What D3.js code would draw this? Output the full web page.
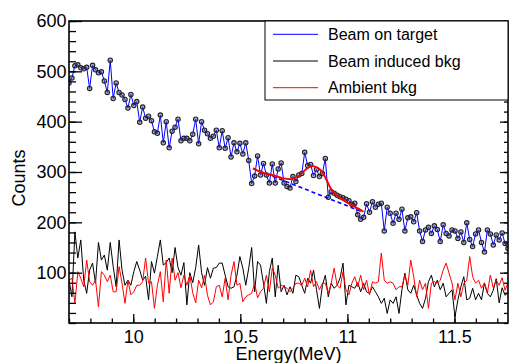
<!DOCTYPE html>
<html>
<head>
<meta charset="utf-8">
<script src="https://cdn.jsdelivr.net/npm/d3@7"></script>
<style>
  body { margin: 0; background: #fff; }
  svg { display: block; font-family: "Liberation Sans", Arial, sans-serif; }
</style>
</head>
<body>
<div class="chart"></div>
<script>
// energy bins: 150 bins from 9.70 to 11.75 MeV
const eFirst = 9.70;
const eLast = 11.75;

// Beam on target (counts per bin)
const beamOnTarget = [
  477, 487, 511, 513, 507, 505, 508, 466, 512, 503, 497, 499, 481, 458, 522, 446, 477, 458, 453, 444,
  427, 454, 432, 440, 399, 429, 407, 411, 402, 380, 377, 413, 358, 400, 348, 381, 389, 405, 362,
  367, 367, 362, 375, 405, 356, 400, 383, 376, 367, 371, 383, 348, 382, 347, 368, 330, 358, 340, 357,
  336, 358, 323, 277, 292, 332, 294, 317, 294, 278, 316, 278, 306, 318, 278, 271,
  268, 291, 281, 294, 297, 339, 313, 315, 293, 305, 291, 297, 327, 250, 261, 258, 254, 251, 249, 246,
  243, 236, 238, 215, 206, 210, 237, 220, 241, 230, 236, 238, 183, 230, 218, 198,
  218, 206, 226, 183, 209, 211, 201, 219, 183, 162, 185, 190, 178, 193, 186, 162, 195, 178, 173, 185,
  183, 168, 181, 160, 199, 166, 152, 177, 185, 160, 141, 185, 177, 155, 175, 165, 179, 158, 148
];

// Beam induced background
const beamInducedBkg = [
  85, 52, 181, 129, 165, 85, 59, 105, 119, 79, 160, 125, 135, 105, 160, 112, 72, 165, 105, 75,
  85, 75, 102, 122, 105, 85, 93, 46, 122, 99, 132, 165, 115, 120,
  129, 100, 150, 110, 95, 120, 36, 100, 80, 110, 155, 100, 75, 110,
  89, 109, 110, 119, 119, 95, 72, 69, 72, 95, 132, 109, 75, 109, 150, 62, 122, 115, 79, 39,
  102, 129, 52, 115, 62, 75, 56, 72, 59, 95, 92, 75, 59, 89, 79, 105, 66, 29, 75, 95,
  52, 79, 69, 75, 89, 119, 36, 75, 72, 69, 80, 62,
  79, 62, 59, 72, 62, 52, 39, 49, 19, 46, 39, 52, 19, 66, 99, 66, 59, 75, 56, 39,
  29, 49, 82, 95, 72, 85, 66, 79, 52, 59, 66, 12, 46, 72, 92, 46, 49, 69, 46, 59,
  46, 79, 59, 52, 65, 88, 40, 70, 55, 60
];

// Ambient background
const ambientBkg = [
  85, 89, 39, 102, 89, 72, 125, 82, 75, 85, 32, 102, 95, 82, 95, 62, 62, 112, 79, 39,
  85, 56, 62, 75, 75, 82, 129, 79, 82, 29, 75, 102, 42, 125,
  59, 129, 85, 100, 70, 95, 75, 95, 60, 40, 85, 70, 95, 55,
  36, 42, 72, 75, 52, 89, 46, 95, 122, 75, 79, 42, 52, 56, 59, 79, 50, 62, 69, 95,
  62, 109, 95, 69, 75, 72, 69, 62, 69, 79, 79, 75, 89, 72, 105, 72, 82, 66, 79, 79,
  59, 79, 109, 75, 69, 102, 66, 56, 79, 92, 72, 95,
  66, 85, 56, 82, 79, 82, 139, 85, 79, 82, 79, 66, 72, 72, 95, 75, 125, 92, 52, 85,
  66, 79, 29, 79, 82, 79, 85, 105, 119, 99, 79, 46, 79, 52, 79, 85, 132, 92, 79, 85,
  69, 80, 60, 95, 70, 85, 75, 90, 65, 80
];

// fit (gaussian peak on linear background)
const fitEnergy = [10.559, 10.601, 10.648, 10.694, 10.741, 10.772, 10.803, 10.834, 10.857, 10.881, 10.904, 10.927, 10.951, 10.981, 11.021, 11.051, 11.075];
const fitCounts = [307, 299, 294, 288, 286, 292, 304, 312, 309, 301, 283, 264, 254, 244, 234, 227, 221];
const bkgLineEnergy = [10.559, 11.075];
const bkgLineCounts = [307, 220];

const xMajor = [10, 10.5, 11, 11.5];
const yMajor = [100, 200, 300, 400, 500, 600];

const legendNames = ['Beam on target', 'Beam induced bkg', 'Ambient bkg'];
const legendColors = ['#0000ff', '#000000', '#ff0000'];

const W = 509, H = 363;
const margin = { top: 21, right: 1, bottom: 40, left: 69 };
const width = W - margin.left - margin.right;
const height = H - margin.top - margin.bottom;

const step = (eLast - eFirst) / (beamOnTarget.length - 1);
const energy = beamOnTarget.map((d, i) => eFirst + i * step);

const svg = d3.select('.chart').append('svg')
    .attr('width', W)
    .attr('height', H);

const g = svg.append('g')
    .attr('transform', `translate(${margin.left},${margin.top})`);

const x = d3.scaleLinear().domain([9.7, 11.75]).range([0, width]);
const y = d3.scaleLinear().domain([0, 600]).range([height, 0]);

g.append('clipPath').attr('id', 'clip')
  .append('rect').attr('width', width).attr('height', height);

const plot = g.append('g').attr('clip-path', 'url(#clip)');

const line = d3.line()
    .x(d => x(d[0]))
    .y(d => y(d[1]));

// series
plot.append('path')
    .datum(energy.map((e, i) => [e, beamOnTarget[i]]))
    .attr('d', line)
    .attr('fill', 'none')
    .attr('stroke', '#0000ff')
    .attr('stroke-width', 1);

plot.selectAll('.dot')
    .data(energy.map((e, i) => [e, beamOnTarget[i]]))
    .enter().append('circle')
    .attr('cx', d => x(d[0]))
    .attr('cy', d => y(d[1]))
    .attr('r', 2.2)
    .attr('fill', 'rgba(70,80,170,0.45)')
    .attr('stroke', '#222')
    .attr('stroke-width', 1.1);

plot.append('path')
    .datum(energy.map((e, i) => [e, beamInducedBkg[i]]))
    .attr('d', line)
    .attr('fill', 'none')
    .attr('stroke', '#000')
    .attr('stroke-width', 1);

plot.append('path')
    .datum(energy.map((e, i) => [e, ambientBkg[i]]))
    .attr('d', line)
    .attr('fill', 'none')
    .attr('stroke', '#ff0000')
    .attr('stroke-width', 1);

// fit curves
plot.append('path')
    .datum(bkgLineEnergy.map((e, i) => [e, bkgLineCounts[i]]))
    .attr('d', line)
    .attr('fill', 'none')
    .attr('stroke', '#0000ff')
    .attr('stroke-width', 1.6)
    .attr('stroke-dasharray', '4,3');

plot.append('path')
    .datum(fitEnergy.map((e, i) => [e, fitCounts[i]]))
    .attr('d', d3.line().x(d => x(d[0])).y(d => y(d[1])).curve(d3.curveCatmullRom))
    .attr('fill', 'none')
    .attr('stroke', '#ff0000')
    .attr('stroke-width', 2);

// axes
const xMinor = d3.range(97, 118).map(d => d / 10);
const yMinor = d3.range(0, 601, 20);

g.append('g')
    .attr('transform', `translate(0,${height})`)
    .call(d3.axisBottom(x).tickValues(xMinor).tickSize(-4.5).tickFormat(''));
g.append('g')
    .attr('transform', `translate(0,${height})`)
    .call(d3.axisBottom(x).tickValues(xMajor).tickSize(-9).tickPadding(7).tickFormat(d3.format('')));

g.append('g')
    .call(d3.axisLeft(y).tickValues(yMinor).tickSize(-7).tickFormat(''));
g.append('g')
    .call(d3.axisLeft(y).tickValues(yMajor).tickSize(-13).tickPadding(2.5).tickFormat(d3.format('')));

g.append('g')
    .attr('transform', `translate(${width},0)`)
    .call(d3.axisRight(y).tickValues(yMinor).tickSize(-4).tickFormat(''));
g.append('g')
    .attr('transform', `translate(${width},0)`)
    .call(d3.axisRight(y).tickValues(yMajor).tickSize(-8).tickFormat(''));

g.selectAll('.domain').remove();
g.selectAll('.tick line').attr('stroke-width', 1.3);
g.selectAll('.tick text')
    .attr('font-size', 18)
    .attr('font-family', '"Liberation Sans", Arial, sans-serif')
    .attr('fill', '#000');

// frame
g.append('rect')
    .attr('width', width)
    .attr('height', height)
    .attr('fill', 'none')
    .attr('stroke', '#000')
    .attr('stroke-width', 1.6);

// axis titles
svg.append('text')
    .attr('x', margin.left + width / 2)
    .attr('y', 360)
    .attr('text-anchor', 'middle')
    .attr('font-size', 18)
    .text('Energy(MeV)');

svg.append('text')
    .attr('transform', 'translate(25,178) rotate(-90)')
    .attr('text-anchor', 'middle')
    .attr('font-size', 18)
    .text('Counts');

// legend
const legend = svg.append('g').attr('transform', 'translate(265,21)');
legend.append('rect')
    .attr('width', 243)
    .attr('height', 79)
    .attr('fill', '#fff')
    .attr('stroke', '#000')
    .attr('stroke-width', 1);

const rows = legend.selectAll('.row')
    .data(legendNames)
    .enter().append('g')
    .attr('transform', (d, i) => `translate(0,${13.3 + i * 26.7})`);
rows.append('line')
    .attr('x1', 8).attr('x2', 53)
    .attr('stroke', (d, i) => legendColors[i])
    .attr('stroke-width', 1);
rows.append('text')
    .attr('x', 63)
    .attr('dy', '0.36em')
    .attr('font-size', 16)
    .text(d => d);
</script>
</body>
</html>
